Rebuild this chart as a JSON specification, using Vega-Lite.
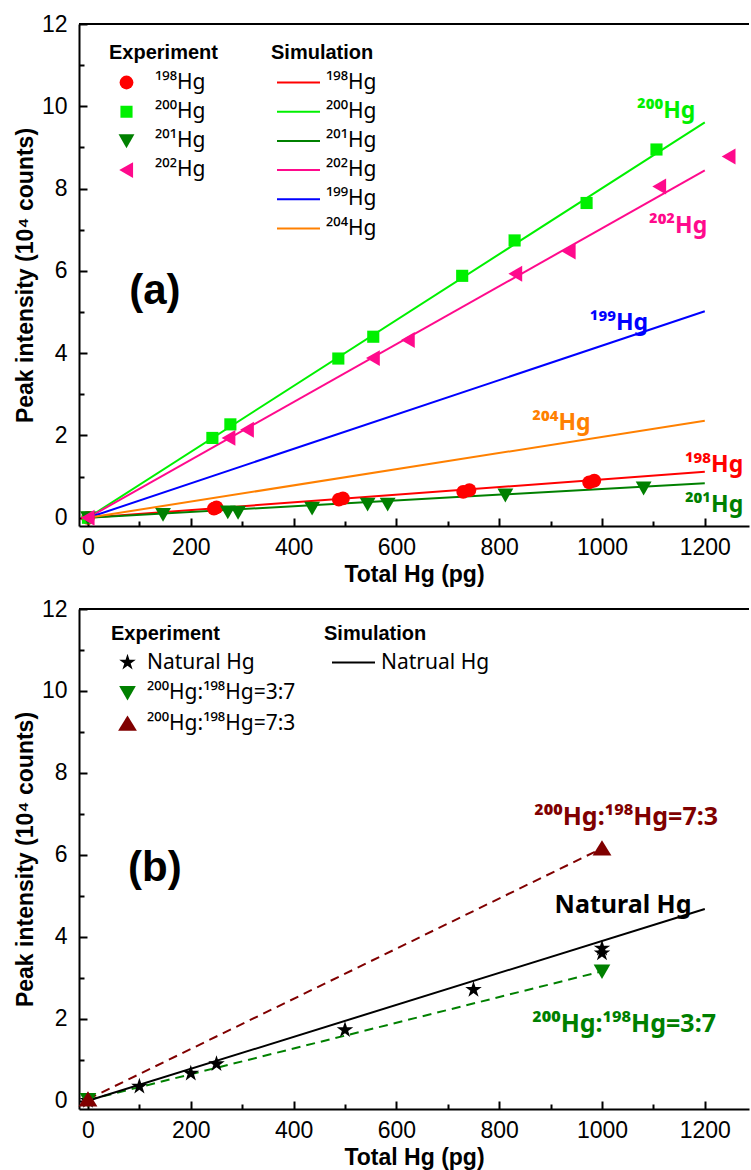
{
  "$schema": "https://vega.github.io/schema/vega-lite/v6.json",
  "autosize": {"type": "pad"},
  "padding": {"left": 14, "top": 13, "right": 0, "bottom": 0},
  "background": "white",
  "bounds": "flush",
  "spacing": 83,
  "datasets": {
    "simA": [
      {"iso": "¹⁹⁸Hg", "x": 0, "y": 0}, {"iso": "¹⁹⁸Hg", "x": 1200, "y": 1.12},
      {"iso": "²⁰⁰Hg", "x": 0, "y": 0}, {"iso": "²⁰⁰Hg", "x": 1200, "y": 9.61},
      {"iso": "²⁰¹Hg", "x": 0, "y": 0}, {"iso": "²⁰¹Hg", "x": 1200, "y": 0.84},
      {"iso": "²⁰²Hg", "x": 0, "y": 0}, {"iso": "²⁰²Hg", "x": 1200, "y": 8.44},
      {"iso": "¹⁹⁹Hg", "x": 0, "y": 0}, {"iso": "¹⁹⁹Hg", "x": 1200, "y": 5.02},
      {"iso": "²⁰⁴Hg", "x": 0, "y": 0}, {"iso": "²⁰⁴Hg", "x": 1200, "y": 2.36}
    ],
    "expA": [
      {"iso": "¹⁹⁸Hg", "x": 0, "y": 0}, {"iso": "¹⁹⁸Hg", "x": 245, "y": 0.22}, {"iso": "¹⁹⁸Hg", "x": 250, "y": 0.25},
      {"iso": "¹⁹⁸Hg", "x": 488, "y": 0.44}, {"iso": "¹⁹⁸Hg", "x": 496, "y": 0.47}, {"iso": "¹⁹⁸Hg", "x": 730, "y": 0.63},
      {"iso": "¹⁹⁸Hg", "x": 742, "y": 0.67}, {"iso": "¹⁹⁸Hg", "x": 975, "y": 0.86}, {"iso": "¹⁹⁸Hg", "x": 985, "y": 0.9},
      {"iso": "²⁰⁰Hg", "x": 0, "y": 0}, {"iso": "²⁰⁰Hg", "x": 242, "y": 1.94}, {"iso": "²⁰⁰Hg", "x": 277, "y": 2.27},
      {"iso": "²⁰⁰Hg", "x": 487, "y": 3.87}, {"iso": "²⁰⁰Hg", "x": 555, "y": 4.4}, {"iso": "²⁰⁰Hg", "x": 728, "y": 5.88},
      {"iso": "²⁰⁰Hg", "x": 830, "y": 6.74}, {"iso": "²⁰⁰Hg", "x": 970, "y": 7.65}, {"iso": "²⁰⁰Hg", "x": 1106, "y": 8.95},
      {"iso": "²⁰¹Hg", "x": 0, "y": 0}, {"iso": "²⁰¹Hg", "x": 146, "y": 0.08}, {"iso": "²⁰¹Hg", "x": 272, "y": 0.14},
      {"iso": "²⁰¹Hg", "x": 292, "y": 0.13}, {"iso": "²⁰¹Hg", "x": 436, "y": 0.23}, {"iso": "²⁰¹Hg", "x": 544, "y": 0.33},
      {"iso": "²⁰¹Hg", "x": 583, "y": 0.33}, {"iso": "²⁰¹Hg", "x": 812, "y": 0.55}, {"iso": "²⁰¹Hg", "x": 1081, "y": 0.72},
      {"iso": "²⁰²Hg", "x": 0, "y": 0}, {"iso": "²⁰²Hg", "x": 274, "y": 1.94}, {"iso": "²⁰²Hg", "x": 310, "y": 2.14},
      {"iso": "²⁰²Hg", "x": 555, "y": 3.88}, {"iso": "²⁰²Hg", "x": 623, "y": 4.32}, {"iso": "²⁰²Hg", "x": 832, "y": 5.93},
      {"iso": "²⁰²Hg", "x": 936, "y": 6.47}, {"iso": "²⁰²Hg", "x": 1112, "y": 8.05}, {"iso": "²⁰²Hg", "x": 1247, "y": 8.78}
    ],
    "labelsA": [
      {"iso": "²⁰⁰Hg", "x": 1125, "y": 9.71},
      {"iso": "²⁰²Hg", "x": 1148, "y": 6.91},
      {"iso": "¹⁹⁹Hg", "x": 1033, "y": 4.57},
      {"iso": "²⁰⁴Hg", "x": 921, "y": 2.14},
      {"iso": "¹⁹⁸Hg", "x": 1218, "y": 1.12},
      {"iso": "²⁰¹Hg", "x": 1218, "y": 0.15}
    ],
    "simB": [
      {"series": "Natrual Hg", "x": 0, "y": 0}, {"series": "Natrual Hg", "x": 1200, "y": 4.68}
    ],
    "expB": [
      {"series": "Natural Hg", "x": 0, "y": 0}, {"series": "Natural Hg", "x": 100, "y": 0.35},
      {"series": "Natural Hg", "x": 200, "y": 0.67}, {"series": "Natural Hg", "x": 250, "y": 0.9},
      {"series": "Natural Hg", "x": 500, "y": 1.73}, {"series": "Natural Hg", "x": 750, "y": 2.71},
      {"series": "Natural Hg", "x": 1000, "y": 3.6}, {"series": "Natural Hg", "x": 1000, "y": 3.72},
      {"series": "²⁰⁰Hg:¹⁹⁸Hg=3:7", "x": 0, "y": 0.02}, {"series": "²⁰⁰Hg:¹⁹⁸Hg=3:7", "x": 1000, "y": 3.16},
      {"series": "²⁰⁰Hg:¹⁹⁸Hg=7:3", "x": 0, "y": 0.04}, {"series": "²⁰⁰Hg:¹⁹⁸Hg=7:3", "x": 1000, "y": 6.16}
    ],
    "labelsB": [
      {"label": "²⁰⁰Hg:¹⁹⁸Hg=7:3", "x": 1047, "y": 6.73},
      {"label": "Natural Hg", "x": 1041, "y": 4.58},
      {"label": "²⁰⁰Hg:¹⁹⁸Hg=3:7", "x": 1043, "y": 1.69}
    ]
  },
  "vconcat": [
    {
      "width": 670,
      "height": 502,
      "resolve": {"axis": {"x": "independent", "y": "independent"}},
      "layer": [
        {
          "data": {"name": "simA"},
          "mark": {"type": "line", "strokeWidth": 2, "clip": true},
          "encoding": {
            "x": {"field": "x", "type": "quantitative", "scale": {"domain": [-17.5, 1286], "nice": false, "zero": false},
                  "axis": {"values": [0, 200, 400, 600, 800, 1000, 1200], "format": "d", "title": "Total Hg (pg)", "ticks": false, "labelPadding": 10.5, "titlePadding": 4}},
            "y": {"field": "y", "type": "quantitative", "scale": {"domain": [-0.2, 12], "nice": false, "zero": false},
                  "axis": {"values": [0, 2, 4, 6, 8, 10, 12], "title": "Peak intensity (10⁴ counts)", "ticks": false, "labelPadding": 12, "titlePadding": 4}},
            "stroke": {"field": "iso", "type": "nominal",
                       "scale": {"domain": ["¹⁹⁸Hg", "²⁰⁰Hg", "²⁰¹Hg", "²⁰²Hg", "¹⁹⁹Hg", "²⁰⁴Hg"],
                                 "range": ["#ff0000", "#00f000", "#008000", "#ff0a8c", "#0000ff", "#ff8000"]},
                       "legend": {"title": "Simulation", "orient": "none", "legendX": 192, "legendY": 19, "direction": "vertical",
                                  "symbolType": "stroke", "symbolSize": 1849, "symbolStrokeWidth": 2, "clipHeight": 21,
                                  "rowPadding": 7.2, "labelOffset": 5, "symbolOffset": 5, "titlePadding": 9}},
            "detail": {"field": "iso", "type": "nominal"}
          }
        },
        {
          "data": {"name": "expA"},
          "mark": {"type": "point", "filled": true, "opacity": 1, "size": 190, "clip": true},
          "encoding": {
            "x": {"field": "x", "type": "quantitative", "axis": null},
            "y": {"field": "y", "type": "quantitative", "axis": null},
            "color": {"field": "iso", "type": "nominal",
                      "scale": {"domain": ["¹⁹⁸Hg", "²⁰⁰Hg", "²⁰¹Hg", "²⁰²Hg"], "range": ["#ff0000", "#00f000", "#008000", "#ff0a8c"]},
                      "legend": {"title": "Experiment", "orient": "none", "legendX": 30, "legendY": 19, "direction": "vertical",
                                 "symbolSize": 190, "symbolOffset": 7, "labelOffset": 18, "rowPadding": 7.2, "clipHeight": 21, "titlePadding": 9}},
            "shape": {"field": "iso", "type": "nominal",
                      "scale": {"domain": ["¹⁹⁸Hg", "²⁰⁰Hg", "²⁰¹Hg", "²⁰²Hg"],
                                "range": ["circle", "M-0.88,-0.88L0.88,-0.88L0.88,0.88L-0.88,0.88Z", "M-1.15,-0.95L1.15,-0.95L0,1.05Z", "M-1.05,0L0.95,-1.15L0.95,1.15Z"]}}
          }
        },
        {
          "data": {"name": "labelsA"},
          "mark": {"type": "text", "font": "Noto Sans", "fontSize": 23, "fontWeight": "bold", "align": "center", "baseline": "alphabetic"},
          "encoding": {
            "x": {"field": "x", "type": "quantitative", "axis": null},
            "y": {"field": "y", "type": "quantitative", "axis": null},
            "text": {"field": "iso"},
            "fill": {"field": "iso", "type": "nominal",
                     "scale": {"domain": ["¹⁹⁸Hg", "²⁰⁰Hg", "²⁰¹Hg", "²⁰²Hg", "¹⁹⁹Hg", "²⁰⁴Hg"],
                               "range": ["#ff0000", "#00f000", "#008000", "#ff0a8c", "#0000ff", "#ff8000"]},
                     "legend": null}
          }
        },
        {
          "data": {"values": [{}]},
          "mark": {"type": "text", "fontSize": 42, "fontWeight": "bold", "align": "center", "baseline": "alphabetic", "color": "#000"},
          "encoding": {
            "x": {"datum": 130, "type": "quantitative", "axis": null},
            "y": {"datum": 5.2, "type": "quantitative", "axis": null},
            "text": {"value": "(a)"}
          }
        },
        {
          "data": {"values": [{}]},
          "mark": {"type": "rule", "strokeWidth": 2, "color": "#000"},
          "encoding": {"y": {"datum": 12, "type": "quantitative", "axis": null}}
        },
        {
          "data": {"name": "simA"},
          "mark": {"type": "point", "opacity": 0},
          "encoding": {
            "x": {"field": "x", "type": "quantitative",
                  "axis": {"orient": "bottom", "values": [0, 200, 400, 600, 800, 1000, 1200], "labels": false, "domain": false, "tickSize": -8, "title": null}},
            "y": {"field": "y", "type": "quantitative",
                  "axis": {"orient": "left", "values": [0, 2, 4, 6, 8, 10, 12], "labels": false, "domain": false, "tickSize": -8, "title": null}}
          }
        },
        {
          "data": {"name": "simA"},
          "mark": {"type": "point", "opacity": 0},
          "encoding": {
            "x": {"field": "x", "type": "quantitative",
                  "axis": {"orient": "bottom", "values": [100, 300, 500, 700, 900, 1100], "labels": false, "domain": false, "tickSize": -5, "title": null}},
            "y": {"field": "y", "type": "quantitative",
                  "axis": {"orient": "left", "values": [1, 3, 5, 7, 9, 11], "labels": false, "domain": false, "tickSize": -5, "title": null}}
          }
        }
      ]
    },
    {
      "width": 670,
      "height": 500,
      "resolve": {"axis": {"x": "independent", "y": "independent"}},
      "layer": [
        {
          "data": {"name": "expB"},
          "transform": [{"filter": {"field": "series", "equal": "²⁰⁰Hg:¹⁹⁸Hg=7:3"}}],
          "mark": {"type": "line", "strokeWidth": 2, "strokeDash": [9, 6], "color": "#800000"},
          "encoding": {
            "x": {"field": "x", "type": "quantitative", "scale": {"domain": [-17.5, 1286], "nice": false, "zero": false},
                  "axis": {"values": [0, 200, 400, 600, 800, 1000, 1200], "format": "d", "title": "Total Hg (pg)", "ticks": false, "labelPadding": 10.5, "titlePadding": 4}},
            "y": {"field": "y", "type": "quantitative", "scale": {"domain": [-0.2, 12], "nice": false, "zero": false},
                  "axis": {"values": [0, 2, 4, 6, 8, 10, 12], "title": "Peak intensity (10⁴ counts)", "ticks": false, "labelPadding": 12, "titlePadding": 4}}
          }
        },
        {
          "data": {"name": "expB"},
          "transform": [{"filter": {"field": "series", "equal": "²⁰⁰Hg:¹⁹⁸Hg=3:7"}}],
          "mark": {"type": "line", "strokeWidth": 2, "strokeDash": [9, 6], "color": "#008000"},
          "encoding": {
            "x": {"field": "x", "type": "quantitative", "axis": null},
            "y": {"field": "y", "type": "quantitative", "axis": null}
          }
        },
        {
          "data": {"name": "simB"},
          "mark": {"type": "line", "strokeWidth": 2},
          "encoding": {
            "x": {"field": "x", "type": "quantitative", "axis": null},
            "y": {"field": "y", "type": "quantitative", "axis": null},
            "stroke": {"field": "series", "type": "nominal", "scale": {"domain": ["Natrual Hg"], "range": ["#000000"]},
                       "legend": {"title": "Simulation", "orient": "none", "legendX": 245, "legendY": 15, "direction": "vertical",
                                  "symbolType": "stroke", "symbolSize": 1849, "symbolStrokeWidth": 2, "clipHeight": 21,
                                  "rowPadding": 8.5, "labelOffset": 5, "symbolOffset": 7, "titlePadding": 8}}
          }
        },
        {
          "data": {"name": "expB"},
          "mark": {"type": "point", "filled": true, "opacity": 1, "size": 210},
          "encoding": {
            "x": {"field": "x", "type": "quantitative", "axis": null},
            "y": {"field": "y", "type": "quantitative", "axis": null},
            "color": {"field": "series", "type": "nominal",
                      "scale": {"domain": ["Natural Hg", "²⁰⁰Hg:¹⁹⁸Hg=3:7", "²⁰⁰Hg:¹⁹⁸Hg=7:3"], "range": ["#000000", "#008000", "#800000"]},
                      "legend": {"title": "Experiment", "orient": "none", "legendX": 32, "legendY": 15, "direction": "vertical",
                                 "symbolSize": 210, "symbolOffset": 6, "labelOffset": 9, "rowPadding": 8.5, "clipHeight": 21, "titlePadding": 8}},
            "shape": {"field": "series", "type": "nominal",
                      "scale": {"domain": ["Natural Hg", "²⁰⁰Hg:¹⁹⁸Hg=3:7", "²⁰⁰Hg:¹⁹⁸Hg=7:3"],
                                "range": ["M0,-1.2L0.269,-0.371L1.141,-0.371L0.436,0.142L0.705,0.971L0,0.458L-0.705,0.971L-0.436,0.142L-1.141,-0.371L-0.269,-0.371Z", "M-1.15,-0.95L1.15,-0.95L0,1.05Z", "M-1.3,1L1.3,1L0,-1.1Z"]}}
          }
        },
        {
          "data": {"name": "labelsB"},
          "mark": {"type": "text", "font": "Noto Sans", "fontSize": 25, "fontWeight": "bold", "align": "center", "baseline": "alphabetic"},
          "encoding": {
            "x": {"field": "x", "type": "quantitative", "axis": null},
            "y": {"field": "y", "type": "quantitative", "axis": null},
            "text": {"field": "label"},
            "fill": {"field": "label", "type": "nominal",
                     "scale": {"domain": ["²⁰⁰Hg:¹⁹⁸Hg=7:3", "Natural Hg", "²⁰⁰Hg:¹⁹⁸Hg=3:7"], "range": ["#800000", "#000000", "#008000"]},
                     "legend": null}
          }
        },
        {
          "data": {"values": [{}]},
          "mark": {"type": "text", "fontSize": 42, "fontWeight": "bold", "align": "center", "baseline": "alphabetic", "color": "#000"},
          "encoding": {
            "x": {"datum": 130, "type": "quantitative", "axis": null},
            "y": {"datum": 5.37, "type": "quantitative", "axis": null},
            "text": {"value": "(b)"}
          }
        },
        {
          "data": {"values": [{}]},
          "mark": {"type": "rule", "strokeWidth": 2, "color": "#000"},
          "encoding": {"y": {"datum": 12, "type": "quantitative", "axis": null}}
        },
        {
          "data": {"name": "simB"},
          "mark": {"type": "point", "opacity": 0},
          "encoding": {
            "x": {"field": "x", "type": "quantitative",
                  "axis": {"orient": "bottom", "values": [0, 200, 400, 600, 800, 1000, 1200], "labels": false, "domain": false, "tickSize": -8, "title": null}},
            "y": {"field": "y", "type": "quantitative",
                  "axis": {"orient": "left", "values": [0, 2, 4, 6, 8, 10, 12], "labels": false, "domain": false, "tickSize": -8, "title": null}}
          }
        },
        {
          "data": {"name": "simB"},
          "mark": {"type": "point", "opacity": 0},
          "encoding": {
            "x": {"field": "x", "type": "quantitative",
                  "axis": {"orient": "bottom", "values": [100, 300, 500, 700, 900, 1100], "labels": false, "domain": false, "tickSize": -5, "title": null}},
            "y": {"field": "y", "type": "quantitative",
                  "axis": {"orient": "left", "values": [1, 3, 5, 7, 9, 11], "labels": false, "domain": false, "tickSize": -5, "title": null}}
          }
        }
      ]
    }
  ],
  "resolve": {
    "scale": {"x": "independent", "y": "independent", "color": "independent", "shape": "independent", "stroke": "independent", "fill": "independent"},
    "legend": {"color": "independent", "shape": "independent", "stroke": "independent", "fill": "independent"}
  },
  "config": {
    "font": "Liberation Sans",
    "view": {"stroke": null},
    "axis": {
      "labelFont": "Liberation Sans", "labelFontSize": 23, "labelColor": "#000",
      "titleFont": "Liberation Sans", "titleFontSize": 23, "titleFontWeight": "bold", "titleColor": "#000",
      "domainColor": "#000", "domainWidth": 2, "tickColor": "#000", "tickWidth": 2, "grid": false,
      "labelFlush": false, "labelOverlap": false
    },
    "legend": {
      "titleFont": "Liberation Sans", "titleFontSize": 20, "titleFontWeight": "bold", "titleColor": "#000",
      "labelFont": "Noto Sans", "labelFontSize": 21, "labelColor": "#000", "padding": 0, "symbolOpacity": 1,
      "labelLimit": 400
    }
  }
}
